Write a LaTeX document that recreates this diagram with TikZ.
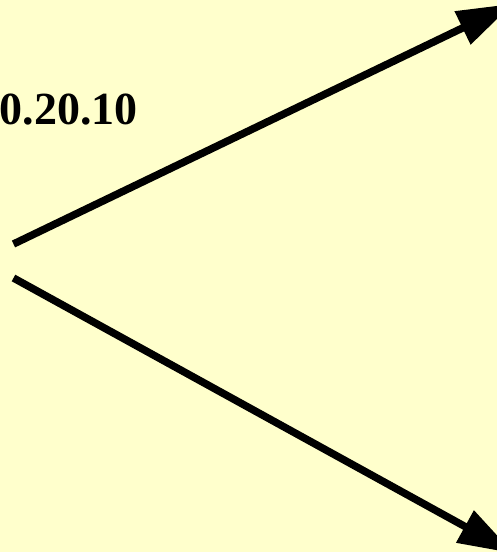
\documentclass[tikz,border=0pt]{standalone}
\usepackage{fontspec}
\setmainfont{Liberation Serif}
\usetikzlibrary{arrows.meta}
\definecolor{bgyellow}{HTML}{FFFFCC}
\tikzset{
  bigarrow/.style={draw=black, line width=7.5pt, -{Triangle[length=56pt,width=35pt]}},
  labeltext/.style={font=\fontsize{46}{50}\selectfont\bfseries, inner sep=0pt, anchor=base west}
}
\begin{document}
\begin{tikzpicture}[x=1pt,y=-1pt]
\useasboundingbox (0,0) rectangle (497,552);
\clip (0,0) rectangle (497,552);
\fill[bgyellow] (0,0) rectangle (497,552);
\node[labeltext] (lbl) at (-0.5,124) {0.20.10};
\coordinate (s1) at (13.5,244);
\coordinate (t1) at (513,3.7);
\coordinate (s2) at (13.5,278);
\coordinate (t2) at (514,553.5);
\draw[bigarrow] (s1) -- (t1);
\draw[bigarrow] (s2) -- (t2);
\end{tikzpicture}
\end{document}
